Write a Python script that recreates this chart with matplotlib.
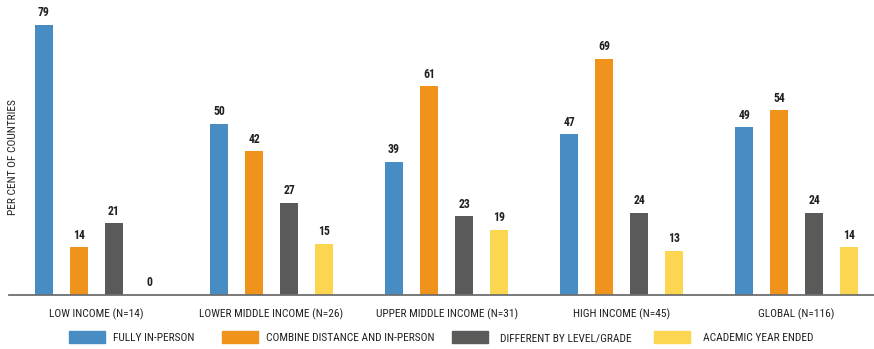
import numpy as np
import matplotlib.pyplot as plt
from matplotlib.patches import Rectangle

# Share of countries by school reopening mode, per income group
groups = ['LOW INCOME (N=14)', 'LOWER MIDDLE INCOME (N=26)', 'UPPER MIDDLE INCOME (N=31)',
          'HIGH INCOME (N=45)', 'GLOBAL (N=116)']
series_names = ['FULLY IN-PERSON', 'COMBINE DISTANCE AND IN-PERSON',
                'DIFFERENT BY LEVEL/GRADE', 'ACADEMIC YEAR ENDED']
fully_in_person = [79, 50, 39, 47, 49]
combine_distance = [14, 42, 61, 69, 54]
different_by_level = [21, 27, 23, 24, 24]
academic_year_ended = [0, 15, 19, 13, 14]

colors = ['#478dc4', '#ef931c', '#5a5a58', '#fcd551']
txt_color = '#231f20'

plt.rcParams['font.family'] = ['Roboto Condensed', 'DejaVu Sans']

W, H = 874, 349
fig = plt.figure(figsize=(W / 100, H / 100), dpi=100)
ax = fig.add_axes([9 / W, 54 / H, 865 / W, 290.7 / H])

all_series = [fully_in_person, combine_distance, different_by_level, academic_year_ended]
group_pos = np.arange(len(groups)) * 5
width = 0.514

for k, vals in enumerate(all_series):
    x = group_pos + k
    ax.bar(x, vals, width=width, color=colors[k], zorder=2)
    for xi, v in zip(x, vals):
        ax.annotate(str(v), (xi, v), xytext=(0, 4), textcoords='offset points',
                    ha='center', va='bottom', fontsize=8.5, fontweight='bold', color=txt_color)

ax.set_xlim(-1.0, 23.71)
ax.set_ylim(0, 85)
for s in ['top', 'right', 'left']:
    ax.spines[s].set_visible(False)
ax.spines['bottom'].set_color('#6e6e6e')
ax.spines['bottom'].set_linewidth(1.3)
ax.set_yticks([])
ax.set_xticks(group_pos + 1.5)
ax.set_xticklabels(groups, fontsize=8.2, color=txt_color)
ax.tick_params(axis='x', length=0, pad=10)

fig.text(13 / W, 1 - 157 / H, 'PER CENT OF COUNTRIES', rotation=90,
         ha='center', va='center', fontsize=8.2, color=txt_color)

# legend laid out by hand along the bottom
key_x = [69, 222, 452, 654]
text_x = [113, 266, 500, 703]
for kx, tx, c, name in zip(key_x, text_x, colors, series_names):
    fig.patches.append(Rectangle((kx / W, 1 - 343 / H), 36 / W, 12 / H,
                                 transform=fig.transFigure, color=c))
    fig.text(tx / W, 1 - 338 / H, name, ha='left', va='center', fontsize=8.2, color=txt_color)

fig.savefig('out.png', dpi=100)
